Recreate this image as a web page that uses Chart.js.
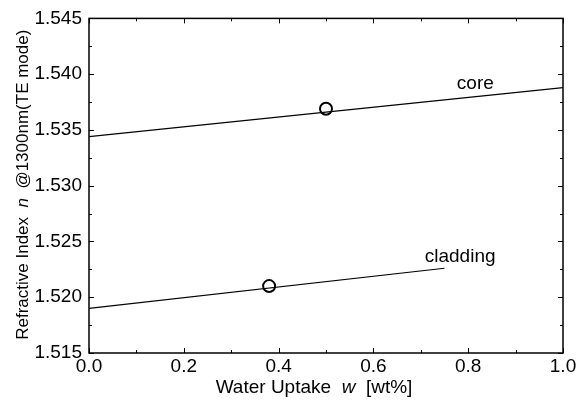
<!DOCTYPE html>
<html>
<head>
<meta charset="utf-8">
<script src="https://cdn.jsdelivr.net/npm/chart.js@4/dist/chart.umd.min.js"></script>
<style>
html,body{margin:0;padding:0;background:#fff;}
canvas{display:block;}
</style>
</head>
<body>
<canvas id="c" width="581" height="405"></canvas>
<script>
// Data
const coreLineX = [0.0, 1.0];
const coreLineY = [1.5344, 1.5388];
const cladLineX = [0.0, 0.75];
const cladLineY = [1.5190, 1.5226];
const markerX = [0.50, 0.38];
const markerY = [1.5369, 1.5210];
const curveLabels = ['core', 'cladding'];
const curveLabelX = [0.815, 0.783];
const curveLabelY = [1.5391, 1.52365];
const xTickValues = [0.0, 0.2, 0.4, 0.6, 0.8, 1.0];
const yTickValues = [1.515, 1.520, 1.525, 1.530, 1.535, 1.540, 1.545];
const xTitleParts = [['Water Uptake  ', false], ['w', true], ['  [wt%]', false]];
const yTitleParts = [['Refractive Index  ', false], ['n', true], ['  @1300nm(TE mode)', false]];

const FONT = '"Liberation Sans", Arial, Helvetica, sans-serif';

function pts(xs, ys){ return xs.map((x,i)=>({x:x, y:ys[i]})); }

const framePlugin = {
  id: 'frame',
  afterDraw(chart){
    const ctx = chart.ctx;
    const a = chart.chartArea;
    const xs = chart.scales.x, ys = chart.scales.y;
    ctx.save();
    ctx.strokeStyle = '#000';
    ctx.lineWidth = 1.5;
    ctx.strokeRect(a.left, a.top, a.right - a.left, a.bottom - a.top);
    ctx.lineWidth = 1;
    const drawX = (v, len) => {
      const p = Math.round(xs.getPixelForValue(v)) + 0.5;
      ctx.beginPath();
      ctx.moveTo(p, a.bottom); ctx.lineTo(p, a.bottom - len);
      ctx.moveTo(p, a.top); ctx.lineTo(p, a.top + len);
      ctx.stroke();
    };
    const drawY = (v, len) => {
      const p = Math.round(ys.getPixelForValue(v)) + 0.5;
      ctx.beginPath();
      ctx.moveTo(a.left, p); ctx.lineTo(a.left + len, p);
      ctx.moveTo(a.right, p); ctx.lineTo(a.right - len, p);
      ctx.stroke();
    };
    for (let i = 0; i < xTickValues.length; i++) {
      drawX(xTickValues[i], 5);
      if (i < xTickValues.length - 1) drawX((xTickValues[i] + xTickValues[i+1]) / 2, 3);
    }
    for (let i = 0; i < yTickValues.length; i++) {
      drawY(yTickValues[i], 5);
      if (i < yTickValues.length - 1) drawY((yTickValues[i] + yTickValues[i+1]) / 2, 3);
    }
    ctx.fillStyle = '#000';
    ctx.font = '19px ' + FONT;
    ctx.textAlign = 'center';
    ctx.textBaseline = 'middle';
    for (let i = 0; i < curveLabels.length; i++) {
      ctx.fillText(curveLabels[i], xs.getPixelForValue(curveLabelX[i]), ys.getPixelForValue(curveLabelY[i]));
    }
    const drawParts = (parts, size) => {
      let total = 0;
      const widths = parts.map(([t, it]) => {
        ctx.font = (it ? 'italic ' : '') + size + 'px ' + FONT;
        const w = ctx.measureText(t).width; total += w; return w;
      });
      let x = -total / 2;
      ctx.textAlign = 'left';
      parts.forEach(([t, it], i) => {
        ctx.font = (it ? 'italic ' : '') + size + 'px ' + FONT;
        ctx.fillText(t, x, 0);
        x += widths[i];
      });
    };
    ctx.textBaseline = 'alphabetic';
    ctx.save();
    ctx.translate((a.left + a.right) / 2 - 12, 393);
    drawParts(xTitleParts, 19);
    ctx.restore();
    ctx.save();
    ctx.translate(28, (a.top + a.bottom) / 2 - 1);
    ctx.rotate(-Math.PI / 2);
    drawParts(yTitleParts, 17);
    ctx.restore();
    ctx.restore();
  }
};

new Chart(document.getElementById('c'), {
  type: 'scatter',
  data: {
    datasets: [
      { data: pts(coreLineX, coreLineY), showLine: true, borderColor: '#000', borderWidth: 1.2, pointRadius: 0, fill: false },
      { data: pts(cladLineX, cladLineY), showLine: true, borderColor: '#000', borderWidth: 1.2, pointRadius: 0, fill: false },
      { data: pts(markerX, markerY), showLine: false, pointRadius: 6, pointBorderWidth: 2, pointBorderColor: '#000', pointBackgroundColor: 'rgba(0,0,0,0)' }
    ]
  },
  options: {
    responsive: false,
    animation: false,
    devicePixelRatio: 1,
    layout: { padding: { left: 0, top: 16, right: 18, bottom: 0 } },
    plugins: { legend: { display: false }, tooltip: { enabled: false } },
    scales: {
      x: {
        type: 'linear', min: 0, max: 1,
        afterFit(s){ s.height = 52; },
        afterBuildTicks(s){ s.ticks = xTickValues.map(v => ({value: v})); },
        grid: { display: false, drawTicks: false },
        border: { display: false },
        ticks: { padding: 2, color: '#000', font: { family: FONT, size: 19 }, callback: v => Number(v).toFixed(1), maxRotation: 0, autoSkip: false }
      },
      y: {
        type: 'linear', min: 1.515, max: 1.545,
        afterFit(s){ s.width = 89; },
        afterBuildTicks(s){ s.ticks = yTickValues.map(v => ({value: v})); },
        grid: { display: false, drawTicks: false },
        border: { display: false },
        ticks: { padding: 7, color: '#000', font: { family: FONT, size: 19 }, callback: v => Number(v).toFixed(3), autoSkip: false }
      }
    }
  },
  plugins: [framePlugin]
});
</script>
</body>
</html>
